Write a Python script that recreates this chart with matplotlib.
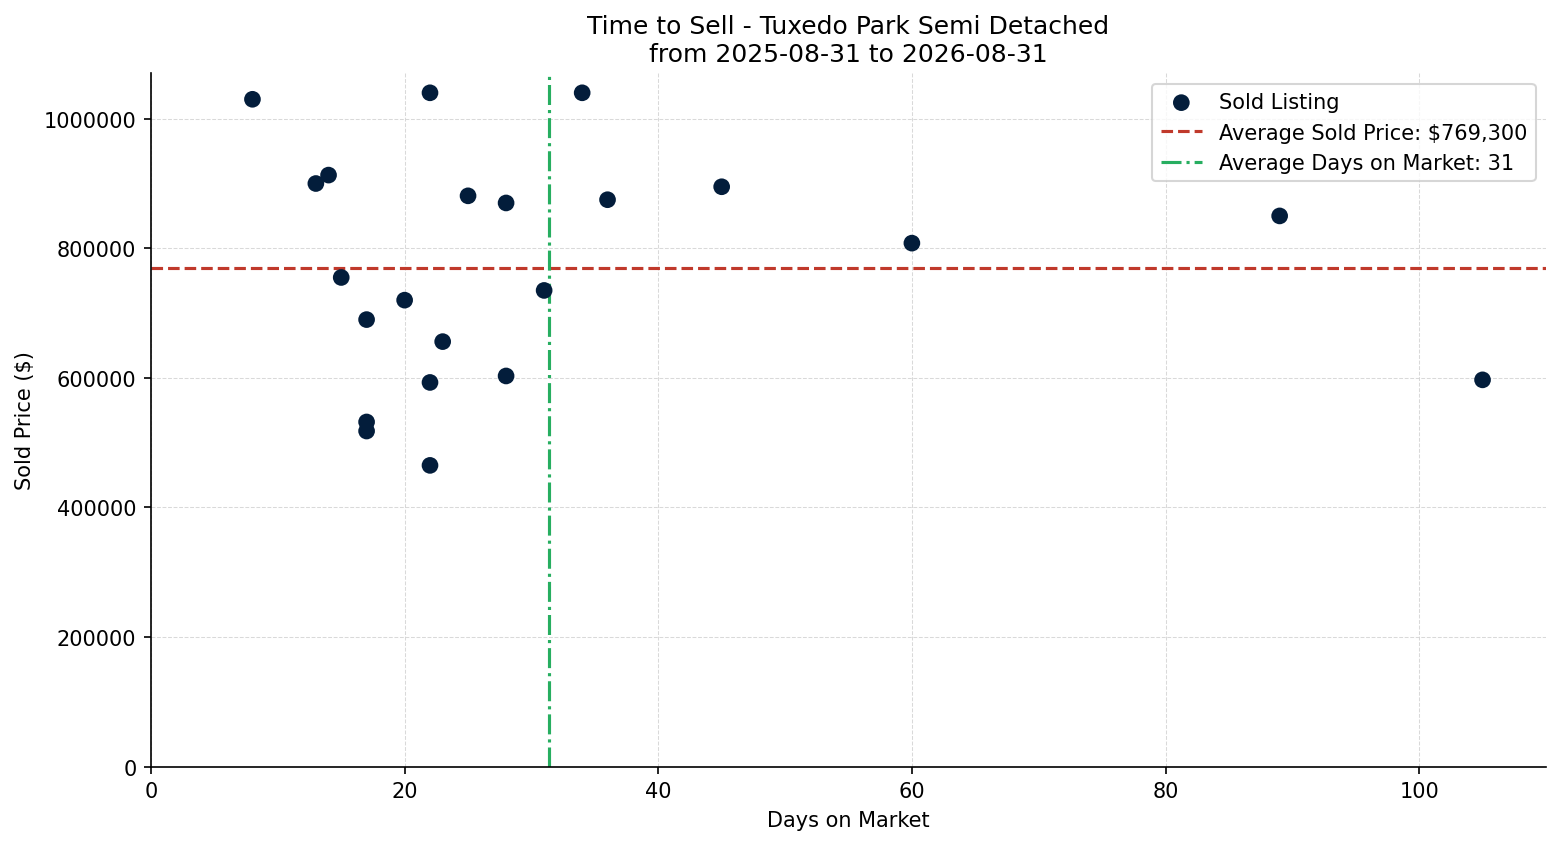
import matplotlib
matplotlib.use("Agg")
import matplotlib.pyplot as plt

days_on_market = [8, 22, 34, 13, 14, 25, 28, 36, 45, 60, 89, 15, 20, 31, 17, 23, 22, 28, 105, 17, 17, 22]
sold_price = [1030000, 1040000, 1040000, 900000, 913000, 881000, 870000, 875000, 895000, 808000,
              850000, 755000, 720000, 735000, 690000, 656000, 593000, 603000, 597000, 532000,
              518000, 465000]
avg_price = 769300
avg_days = 31.4

fig = plt.figure(figsize=(10.4, 5.6333), dpi=150)
ax = fig.add_axes([0.0968, 0.0915, 0.8942, 0.8205])

ax.scatter(days_on_market, sold_price, s=64, color="#031d3b", edgecolors="none",
           zorder=3, label="Sold Listing")
ax.axhline(avg_price, color="#c0392b", linestyle="--", linewidth=1.5,
           label=f"Average Sold Price: ${avg_price:,.0f}", zorder=2)
ax.axvline(avg_days, color="#27ae60", linestyle="-.", linewidth=1.5,
           label=f"Average Days on Market: {avg_days:.0f}", zorder=2)

ax.set_xlim(0, 110)
ax.set_ylim(0, 1070000)
ax.ticklabel_format(style="plain", axis="y")
ax.grid(True, linestyle="--", linewidth=0.5, color="#d0d0d0", alpha=0.8)
ax.set_axisbelow(True)
ax.spines["top"].set_visible(False)
ax.spines["right"].set_visible(False)

ax.set_xlabel("Days on Market", fontsize=10)
ax.set_ylabel("Sold Price ($)", fontsize=10)
ax.set_title("Time to Sell - Tuxedo Park Semi Detached\nfrom 2025-08-31 to 2026-08-31", fontsize=12)
ax.tick_params(labelsize=10)
ax.legend(loc="upper right", fontsize=10)

fig.savefig("out.png", dpi=150)
